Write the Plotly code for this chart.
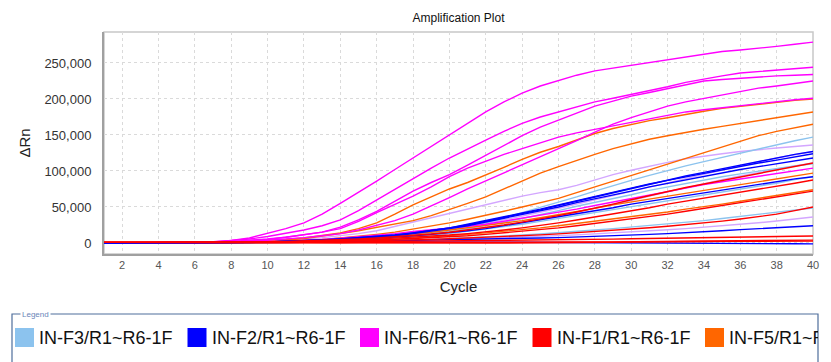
import plotly.graph_objects as go

# ---------------- data (ΔRn values in thousands, cycles 1..40) ----------------
CYCLES = list(range(1, 41))
SCALE = 1000

SERIES_NAMES = ["IN-F3/R1~R6-1F", "IN-F2/R1~R6-1F", "IN-F6/R1~R6-1F",
                "IN-F1/R1~R6-1F", "IN-F5/R1~R6-1F", "IN-F4/R1~R6-1F"]
SERIES_COLORS = ["#8CC3EE", "#0000FF", "#FF00FF", "#FF0000", "#FF6600", "#D3A6FF"]

# IN-F6 (magenta)
M1 = [0,0,0,0,0.3,0.8,1.8,3.5,7,13,20,28,40,55,70,86,102,118,134,149,166,182,196,208,218,226,233,239,243,247,251,255,259,263,266,268,270,273,276,279]
M2 = [0,0,0,0,0.2,0.6,1.5,3,5.5,9,13,18,24,32,45,60,75,90,104,118,131,143,155,166,175,182,189,196,201,206,211,217,223,228,232,236,238,240,242,244]
M3 = [0,0,0,0,0.1,0.4,1,2,3.5,5.5,8,11,15,22,32,44,58,72,84,95,108,122,136,149,161,171,181,190,197,204,209,214,220,225,227,229,231,232,233,234]
M4 = [0,0,0,0,0.1,0.3,0.8,1.5,3,5,8,11,15,20,30,42,53,65,78,92,104,114,123,131,139,147,153,158,163,168,173,178,182,185,188,191,194,196,199,201]
M5 = [0,0,0,0,0,0.2,0.5,1,2,3.5,5.5,7.5,10,13,18,24,31,40,51,63,75,86,97,108,119,130,142,154,165,174,182,190,196,201,206,211,215,218,222,225]
M6 = [0,0,0,0,0,0.1,0.3,0.6,1,1.6,2.4,3.5,5,6.5,8.5,11,13,16,18,21,23,26,30,34,38,42,47,52,57,62,67,72,77,81,85,89,93,97,101,104]

# IN-F5 (orange)
O1 = [0,0,0,0,0,0.2,0.6,1.2,2.2,3.5,5,7,10,14,20,28,40,53,64,75,84,94,105,116,126,134,143,152,159,165,170,174,179,183,187,190,193,196,198,200]
O2 = [0,0,0,0,0,0.1,0.4,0.8,1.5,2.5,4,6,9,13,17,22,27,31,38,46,55,64,75,86,97,106,115,123,131,138,144,149,154,158,162,166,170,174,178,182]
O3 = [0,0,0,0,0,0,0.2,0.5,1,1.7,2.5,3.5,5,7,9,12,15,19,23,28,33,38,44,50,56,62,70,78,86,94,102,110,118,126,134,142,149,155,160,165]
O4 = [0,0,0,0,0,0,0.1,0.3,0.6,1,1.5,2.2,3,4.5,6,8,10,12,15,18,21,24,27,31,35,39,44,48,53,57,61,65,70,74,78,82,86,90,94,97]
O5 = [0,0,0,0,0,0,0,0.1,0.3,0.5,0.8,1.2,1.7,2.3,3,4,5,6.5,8,10,12,14,16,18,21,24,27,30,34,37,40,43,47,50,54,58,62,66,70,74]

# IN-F2 (blue)
B1 = [0,0,0,0,0,0.1,0.3,0.6,1,1.6,2.3,3.2,4.3,5.6,7.2,9,11,14,17,21,26,31,36,42,47,53,59,65,71,76,82,87,92,97,102,106,111,115,120,124]
B2 = [0,0,0,0,0,0.1,0.2,0.5,0.8,1.3,2,2.8,3.8,5,6.5,8.2,10,13,16,20,24,29,34,39,45,50,56,61,67,72,78,83,88,93,98,102,106,110,114,118]
B3 = [0,0,0,0,0,0,0.2,0.4,0.7,1.1,1.6,2.3,3.1,4,5.2,6.6,8,10,12,14,17,20,24,28,32,36,40,45,49,54,58,62,66,70,74,78,82,85,89,92]
B4 = [0,0,0,0,0,0,0,0.1,0.2,0.4,0.6,0.9,1.2,1.6,2,2.5,3,3.5,4,4.5,5,5.5,6,6.5,7,7.5,8.2,9,10,11,12,13,14,15.5,17,18.5,20,21.5,23,24]
B5 = [0.5,0.5,0.4,0.4,0.3,0.3,0.2,0.2,0.2,0.3,0.4,0.5,0.6,0.8,1,1.2,1.4,1.5,1.6,1.6,1.5,1.4,1.2,1,0.8,0.6,0.4,0.2,0,-0.2,-0.4,-0.5,-0.6,-0.7,-0.8,-0.9,-1,-1,-1.1,-1.2]
B6 = [0,0,0,0,0,0.1,0.3,0.6,1,1.5,2.2,3.1,4.2,5.5,7,8.8,11,14,17,21,25,30,35,40,46,52,58,64,70,76,82,88,93,98,103,108,113,118,123,127]

# IN-F3 (light blue)
L1 = [0,0,0,0,0,0.1,0.2,0.5,0.9,1.4,2,2.8,3.8,5,6.5,8.3,10.5,13,15.5,18,23,28,35,42,49,57,64,72,80,87,94,101,107,113,119,125,131,136,142,147]
L2 = [0,0,0,0,0,0.1,0.2,0.4,0.8,1.2,1.8,2.5,3.4,4.5,5.8,7.3,9,11,13.5,16,20,24,29,34,39,45,51,56,62,67,73,78,83,88,92,96,100,104,107,110]
L3 = [0,0,0,0,0,0,0.1,0.3,0.6,1,1.5,2.1,2.8,3.6,4.6,5.8,7.2,9,11,13,16,19,22,26,30,34,38,42,46,50,54,58,62,66,70,74,79,83,88,92]
L4 = [0,0,0,0,0,0,0,0.1,0.2,0.4,0.6,0.9,1.2,1.6,2,2.6,3.2,4,5,6,7,8,9.5,11,12.5,14,16,18,20,22,24,26,28,31,34,37,40,43,46,48.6]

# IN-F1 (red)
R1 = [0.8,0.8,0.7,0.6,0.5,0.5,0.6,0.8,1.1,1.5,2,2.7,3.5,4.5,5.7,7,8.6,10.4,12.5,15,18,21,25,29,33,38,43,48,54,60,66,72,77,82,87,92,97,102,107,111]
R2 = [0.8,0.8,0.7,0.6,0.5,0.5,0.5,0.7,0.9,1.2,1.6,2.1,2.7,3.4,4.3,5.3,6.5,8,9.5,11,13,15,18,21,24,28,32,36,40,45,49,54,58,62,66,70,75,79,83,87.5]
R3 = [0.8,0.8,0.7,0.6,0.5,0.5,0.5,0.6,0.8,1,1.3,1.7,2.2,2.8,3.5,4.3,5.2,6.2,7.3,8.5,10,12,14,16,18.5,21,24,27,30,33,36,40,44,48,52,56,60,64,68,72]
R4 = [0.8,0.8,0.7,0.6,0.5,0.4,0.4,0.5,0.6,0.8,1,1.3,1.6,2,2.5,3,3.6,4.2,5,5.8,6.7,7.7,8.8,10,11.3,12.7,14.2,15.8,17.5,19.3,21.2,23.2,25.4,27.8,30.4,33.3,36.5,40,45,50]
R5 = [0.8,0.7,0.6,0.5,0.4,0.3,0.3,0.3,0.4,0.5,0.6,0.8,1,1.2,1.4,1.6,1.8,2,2.2,2.4,2.6,2.8,3,3.3,3.6,4,4.4,4.8,5.3,5.8,6.3,6.8,7.2,7.6,8,8.4,8.8,9.1,9.4,9.7]
R6 = [0.8,0.7,0.6,0.5,0.4,0.3,0.2,0.2,0.2,0.2,0.3,0.3,0.4,0.4,0.5,0.5,0.6,0.6,0.7,0.7,0.8,0.8,0.9,1,1.1,1.2,1.3,1.4,1.6,1.8,2,2.2,2.4,2.6,2.8,3,3.2,3.5,3.8,4]
R7 = [1,0.9,0.8,0.7,0.5,0.4,0.3,0.2,0.1,0,-0.1,-0.2,-0.2,-0.3,-0.3,-0.3,-0.3,-0.3,-0.3,-0.3,-0.2,-0.2,-0.1,0,0.2,0.4,0.6,0.8,1,1.2,1.4,1.6,1.8,2,2.2,2.3,2.4,2.5,2.6,2.6]

# IN-F4 (lavender)
V1 = [0,0,0,0,0,0.2,0.5,1,1.8,2.8,4,5.5,7.5,10,13,17,23,30,36,42,48,54,60,65,70,74,80,88,95,101,107,112,117,121,124,127,130,132,134,136]
V2 = [0,0,0,0,0,0.1,0.3,0.6,1,1.5,2.2,3,4,5.3,6.8,8.5,10.5,13,16,19,23,27,32,37,42,48,54,60,66,72,78,84,90,96,102,108,113,118,123,127]
V3 = [0,0,0,0,0,0,0.1,0.2,0.4,0.6,0.9,1.2,1.6,2,2.5,3,3.6,4.2,4.8,5.4,6,6.7,7.5,8.3,9.2,10.2,11.3,12.5,13.8,15.2,16.7,18.3,20,21.8,23.7,25.7,28,30.5,33,36]
V4 = [0,0,0,0,0,0.1,0.2,0.5,0.8,1.2,1.8,2.5,3.3,4.3,5.5,7,8.7,10.5,12.5,15,18,21,25,29,33,38,43,48,53,59,65,71,77,83,88,93,98,103,107,111]

GROUP_WELLS = {
    "IN-F3/R1~R6-1F": [L1, L2, L3, L4],
    "IN-F2/R1~R6-1F": [B1, B2, B3, B4, B5, B6],
    "IN-F6/R1~R6-1F": [M1, M2, M3, M4, M5, M6],
    "IN-F1/R1~R6-1F": [R1, R2, R3, R4, R5, R6, R7],
    "IN-F5/R1~R6-1F": [O1, O2, O3, O4, O5],
    "IN-F4/R1~R6-1F": [V1, V2, V3, V4],
}
DRAW_ORDER = ["IN-F4/R1~R6-1F", "IN-F3/R1~R6-1F", "IN-F5/R1~R6-1F",
              "IN-F6/R1~R6-1F", "IN-F2/R1~R6-1F", "IN-F1/R1~R6-1F"]

X_TICKS = list(range(2, 41, 2))
Y_TICKS = [0, 50000, 100000, 150000, 200000, 250000]

# ---------------- layout geometry (pixels) ----------------
WIDTH, HEIGHT = 831, 362
ML, MR, MT, MB = 104, 18, 32, 108
PW = WIDTH - ML - MR
PH = HEIGHT - MT - MB

def px(xp):
    return (xp - ML) / PW

def py(yp):
    return (HEIGHT - MB - yp) / PH

FONT = "Liberation Sans, Arial, sans-serif"

fig = go.Figure()
color_of = dict(zip(SERIES_NAMES, SERIES_COLORS))
for name in DRAW_ORDER:
    for well in GROUP_WELLS[name]:
        fig.add_trace(go.Scatter(
            x=CYCLES, y=[v * SCALE for v in well], mode="lines",
            line=dict(color=color_of[name], width=1.4),
            name=name, showlegend=False, hoverinfo="skip"))

shapes = []
annotations = []

# plot border (light grey)
shapes.append(dict(type="rect", xref="paper", yref="paper", x0=0, x1=1, y0=0, y1=1,
                   line=dict(color="#C8C8C8", width=1.5), layer="below"))

# custom legend frame
FRAME_L, FRAME_R, FRAME_T = 12, 818, 314
shapes.append(dict(type="rect", xref="paper", yref="paper",
                   x0=px(FRAME_L), x1=px(FRAME_R), y0=py(FRAME_T), y1=py(HEIGHT + 30),
                   line=dict(color="#4F6E9C", width=1.2), fillcolor="rgba(0,0,0,0)"))
annotations.append(dict(xref="paper", yref="paper", x=px(20), y=py(FRAME_T),
                        xanchor="left", yanchor="middle", text="Legend", showarrow=False,
                        font=dict(family=FONT, size=8, color="#6A85B8"),
                        bgcolor="white", borderpad=1))

ITEM_X0, ITEM_STEP, SQ = 15, 172.5, 19
ITEM_CY = 337.5
for i, (name, col) in enumerate(zip(SERIES_NAMES, SERIES_COLORS)):
    sx = ITEM_X0 + i * ITEM_STEP
    if sx > FRAME_R:
        break
    shapes.append(dict(type="rect", xref="paper", yref="paper",
                       x0=px(sx), x1=px(sx + SQ), y0=py(ITEM_CY + SQ / 2), y1=py(ITEM_CY - SQ / 2),
                       line=dict(width=0), fillcolor=col))
    tx = sx + SQ + 4
    box_w = min(150, FRAME_R - tx - 1)
    annotations.append(dict(xref="paper", yref="paper", x=px(tx), y=py(ITEM_CY),
                            xanchor="left", yanchor="middle", text=name, showarrow=False,
                            width=box_w, align="left", borderpad=0,
                            font=dict(family=FONT, size=18, color="#111111")))

fig.update_layout(
    width=WIDTH, height=HEIGHT,
    margin=dict(l=ML, r=MR, t=MT, b=MB),
    paper_bgcolor="white", plot_bgcolor="white",
    font=dict(family=FONT, color="#222222"),
    title=dict(text="Amplification Plot", x=(ML + PW / 2) / WIDTH,
               xanchor="center", y=1 - 18 / HEIGHT, yanchor="middle",
               font=dict(family=FONT, size=12, color="#111111")),
    xaxis=dict(range=[1, 40], tickvals=X_TICKS, showgrid=True, gridcolor="#DADADA",
               griddash="3px,3px", gridwidth=1, showline=True, linecolor="#A0A0A0",
               linewidth=2, zeroline=False, ticks="", ticklen=0,
               tickfont=dict(family=FONT, size=11, color="#555555"),
               title=dict(text="Cycle", standoff=11, font=dict(family=FONT, size=15, color="#222222"))),
    yaxis=dict(range=[-15300, 293000], tickvals=Y_TICKS, tickformat=",d", showgrid=True,
               gridcolor="#DADADA", griddash="3px,3px", gridwidth=1, showline=True,
               linecolor="#A0A0A0", linewidth=2, zeroline=False, ticks="",
               ticklabelstandoff=8,
               tickfont=dict(family=FONT, size=13, color="#333333"),
               title=dict(text="ΔRn", standoff=10, font=dict(family=FONT, size=15, color="#222222"))),
    shapes=shapes, annotations=annotations, showlegend=False,
)

fig.write_html("out.html", config={"displayModeBar": False},
               post_script="document.body.style.margin='0px';")
